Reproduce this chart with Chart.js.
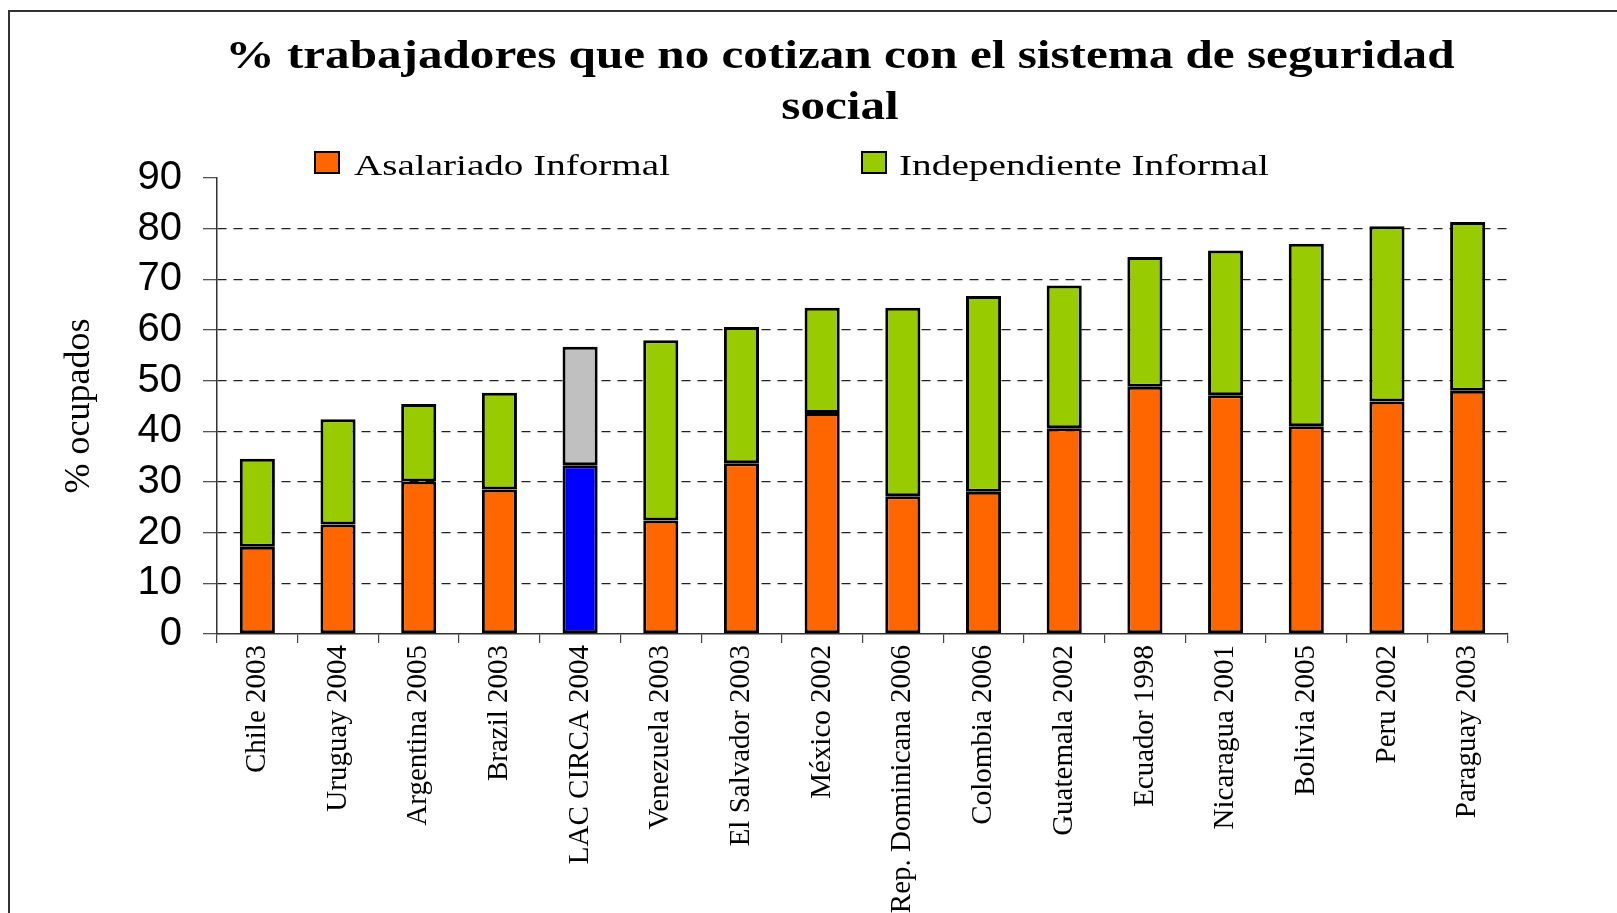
<!DOCTYPE html>
<html>
<head>
<meta charset="utf-8">
<script src="https://cdn.jsdelivr.net/npm/chart.js@4.4.1/dist/chart.umd.min.js"></script>
<style>
  html, body { margin: 0; padding: 0; background: #fff; overflow: hidden; }
  #wrap { position: relative; width: 1617px; height: 913px; }
  #frame { position: absolute; left: 8px; top: 10px; width: 1700px; height: 1000px;
           border-left: 2px solid #333; border-top: 2px solid #333; box-sizing: border-box; }
  canvas { position: absolute; left: 0; top: 0; }
</style>
</head>
<body>
<div id="wrap">
  <div id="frame"></div>
  <canvas id="c" width="1617" height="913"></canvas>
</div>
<script>
// ---- data ----
const titleLines = ['% trabajadores que no cotizan con el sistema de seguridad', 'social'];
const seriesNames = ['Asalariado Informal', 'Independiente Informal'];
const categories = ['Chile 2003', 'Uruguay 2004', 'Argentina 2005', 'Brazil 2003', 'LAC CIRCA 2004',
  'Venezuela 2003', 'El Salvador 2003', 'México 2002', 'Rep. Dominicana 2006', 'Colombia 2006',
  'Guatemala 2002', 'Ecuador 1998', 'Nicaragua 2001', 'Bolivia 2005', 'Peru 2002', 'Paraguay 2003'];
const asalariadoInformal = [17.2, 21.6, 30.1, 28.5, 33.3, 22.4, 33.7, 43.6, 27.2, 28.1, 40.6, 48.8, 47.1, 41.0, 45.9, 48.0];
const independienteInformal = [17.4, 20.8, 15.3, 19.1, 23.4, 35.6, 26.9, 20.8, 37.2, 38.6, 28.2, 25.6, 28.6, 36.0, 34.6, 33.3];
const yTickValues = [0, 10, 20, 30, 40, 50, 60, 70, 80, 90];
const yAxisTitle = '% ocupados';
const highlightCategory = 'LAC CIRCA 2004';

// ---- styles ----
const ORANGE = '#FF6600', GREEN = '#99CC00', BLUE = '#0000FF', GRAY = '#C0C0C0';
const hi = categories.indexOf(highlightCategory);
const colorsA = categories.map((c, i) => i === hi ? BLUE : ORANGE);
const colorsB = categories.map((c, i) => i === hi ? GRAY : GREEN);

const titleAndLegend = {
  id: 'titleAndLegend',
  afterDraw(chart) {
    const ctx = chart.ctx;
    // title (horizontally stretched like the original)
    ctx.save();
    ctx.fillStyle = '#000';
    ctx.font = 'bold 40px "Liberation Serif"';
    ctx.textAlign = 'center';
    ctx.textBaseline = 'alphabetic';
    const w = ctx.measureText(titleLines[0]).width;
    const sx = 1229 / w;
    ctx.translate(840, 0);
    ctx.scale(sx, 1);
    ctx.fillText(titleLines[0], 0, 68);
    ctx.fillText(titleLines[1], 0, 119);
    ctx.restore();

    // legend
    const items = [
      { text: seriesNames[0], color: ORANGE, boxX: 315, textX: 354, width: 316 },
      { text: seriesNames[1], color: GREEN, boxX: 862, textX: 899, width: 370 }
    ];
    items.forEach(it => {
      ctx.save();
      ctx.fillStyle = it.color;
      ctx.strokeStyle = '#000';
      ctx.lineWidth = 2;
      ctx.fillRect(it.boxX, 152, 24, 21);
      ctx.strokeRect(it.boxX, 152, 24, 21);
      ctx.fillStyle = '#000';
      ctx.font = '30px "Liberation Serif"';
      ctx.textAlign = 'left';
      ctx.textBaseline = 'alphabetic';
      const tw = ctx.measureText(it.text).width;
      ctx.translate(it.textX, 175);
      ctx.scale(it.width / tw, 1);
      ctx.fillText(it.text, 0, 0);
      ctx.restore();
    });
  }
};

new Chart(document.getElementById('c'), {
  type: 'bar',
  data: {
    labels: categories,
    datasets: [
      { label: seriesNames[0], data: asalariadoInformal, backgroundColor: colorsA,
        borderColor: '#000', borderWidth: 3, borderSkipped: false },
      { label: seriesNames[1], data: independienteInformal, backgroundColor: colorsB,
        borderColor: '#000', borderWidth: 3, borderSkipped: false }
    ]
  },
  options: {
    responsive: false,
    animation: false,
    devicePixelRatio: 1,
    categoryPercentage: 1,
    barPercentage: 0.435,
    layout: { padding: { top: 178, right: 109, bottom: 0, left: 0 } },
    plugins: {
      legend: { display: false },
      title: { display: false },
      tooltip: { enabled: false }
    },
    scales: {
      x: {
        stacked: true,
        offset: true,
        grid: { display: true, drawOnChartArea: false, drawTicks: true, tickLength: 9, color: '#444', lineWidth: 1.2 },
        border: { display: true, color: '#333', width: 1.5 },
        ticks: {
          minRotation: 90, maxRotation: 90, autoSkip: false, padding: 2, color: '#000',
          font: { family: '"Liberation Serif"', size: 29 }
        },
        afterFit(scale) { scale.height = 279; }
      },
      y: {
        stacked: true,
        min: 0, max: 90,
        afterBuildTicks(scale) { scale.ticks = yTickValues.map(v => ({ value: v })); },
        grid: {
          drawTicks: true, tickLength: 14,
          color: c => (c.tick && (c.tick.value === 0 || c.tick.value === 90)) ? 'rgba(0,0,0,0)' : '#222',
          tickColor: '#555',
          lineWidth: 1.3
        },
        border: { display: true, color: '#333', width: 1.5, dash: [9, 7] },
        ticks: {
          autoSkip: false,
          padding: 21, color: '#000',
          font: { family: '"Liberation Sans"', size: 40 }
        },
        title: {
          display: true, text: yAxisTitle, color: '#000',
          font: { family: '"Liberation Serif"', size: 36 },
          padding: { top: 58, bottom: 0 }
        },
        afterFit(scale) { scale.width = 217; }
      }
    }
  },
  plugins: [titleAndLegend]
});
</script>
</body>
</html>
